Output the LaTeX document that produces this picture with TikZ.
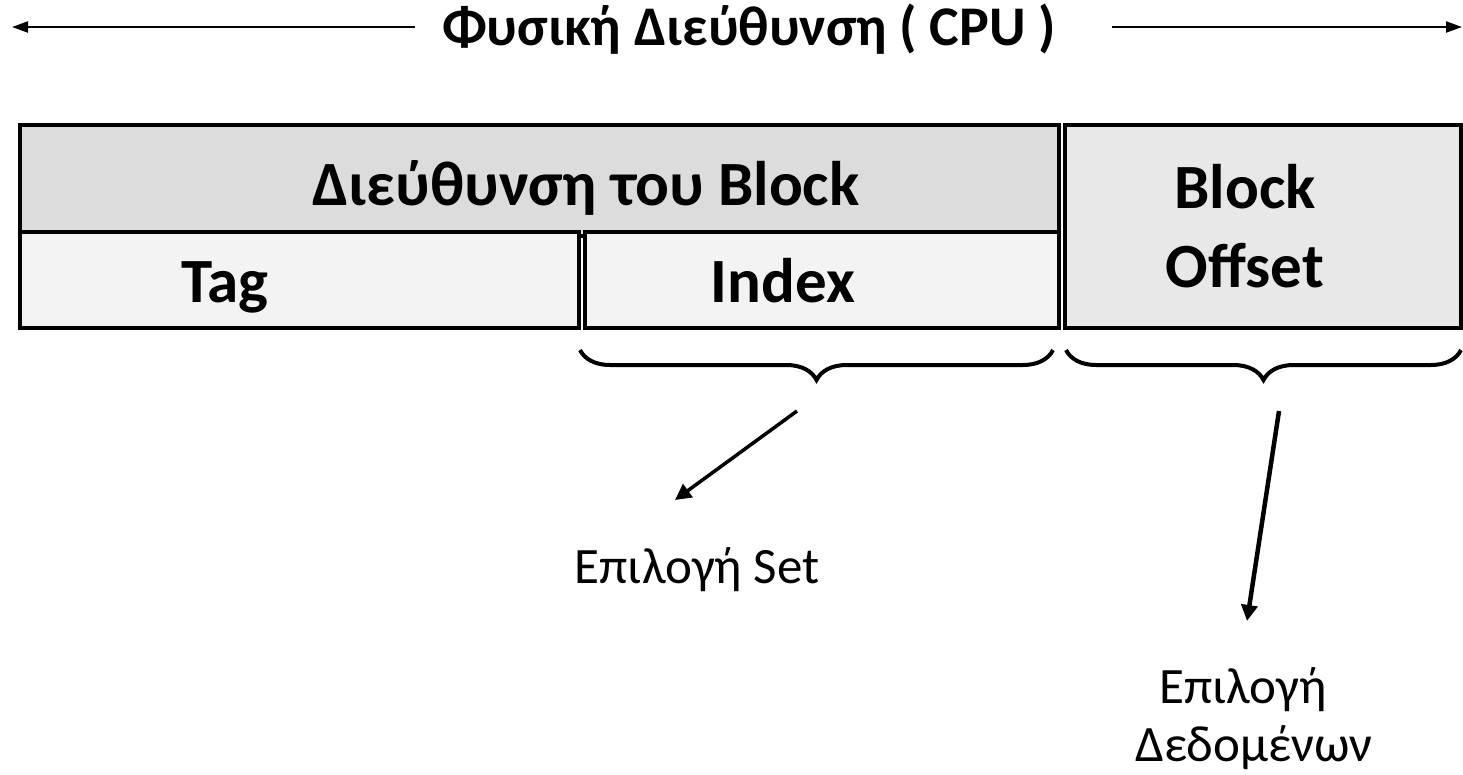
\documentclass[tikz,border=0pt]{standalone}
\usepackage{fontspec}
\setmainfont{Carlito}
\usetikzlibrary{arrows.meta,decorations.pathreplacing}
\definecolor{topgray}{HTML}{DCDCDC}
\definecolor{lowgray}{HTML}{F3F3F3}
\definecolor{offgray}{HTML}{E8E8E8}
\begin{document}
\begin{tikzpicture}[x=1pt,y=-1pt,
  cell/.style={draw=black,line width=4.5pt,inner sep=0pt,outer sep=0pt,anchor=north west},
  big/.style={font=\bfseries\fontsize{63}{79}\selectfont,inner sep=0pt,anchor=base},
  small/.style={font=\fontsize{51}{58}\selectfont,inner sep=0pt,anchor=base,align=center},
  brc/.style={decorate,decoration={brace,amplitude=30pt,mirror},line width=4pt},
  thinarrow/.style={line width=2pt,-{Triangle[length=16pt,width=11pt]}},
  thickarrow/.style={line width=4.5pt,-{Triangle[length=16pt,width=16pt]}}]
\useasboundingbox (0,0) rectangle (1463,774);
% cells
\node[cell,fill=topgray,minimum width=1039pt,minimum height=111pt] (top) at (20,125) {};
\node[cell,fill=lowgray,minimum width=559pt,minimum height=96pt] (tag) at (20,232) {};
\node[cell,fill=lowgray,minimum width=474pt,minimum height=96pt] (idx) at (585,232) {};
\node[cell,fill=offgray,minimum width=396pt,minimum height=203pt] (off) at (1065,125) {};
% texts
\node[big] (ttop) at (586,205) {Διεύθυνση του Block};
\node[big] (ttag) at (225,302) {Tag};
\node[big] (tidx) at (783,302) {Index};
\node[big,align=center] (toff) at (1245,287) {Block\\Offset};
% title
\node[font=\bfseries\fontsize{56}{60}\selectfont,inner sep=0pt,anchor=base] (title) at (749,45) {Φυσική Διεύθυνση ( CPU )};
\coordinate (lt) at (415,27);
\coordinate (lh) at (12,27);
\coordinate (rt) at (1112,27);
\coordinate (rh) at (1462,27);
\draw[thinarrow] (lt) -- (lh);
\draw[thinarrow] (rt) -- (rh);
% braces
\coordinate (b1a) at (580,350);
\coordinate (b1b) at (1053,350);
\coordinate (b2a) at (1066,350);
\coordinate (b2b) at (1461,350);
\draw[brc] (b1a) -- (b1b);
\draw[brc] (b2a) -- (b2b);
% arrows
\node[small] (set) at (697,583) {Επιλογή Set};
\node[small] (data) at (1254,761) {Επιλογή\hspace*{22pt}\\Δεδομένων};
\coordinate (a1s) at (797,411);
\coordinate (a1e) at (675,500);
\coordinate (a2s) at (1279,411);
\coordinate (a2e) at (1247,621);
\draw[thickarrow,line width=3.5pt] (a1s) -- (a1e);
\draw[thickarrow] (a2s) -- (a2e);
\end{tikzpicture}
\end{document}
